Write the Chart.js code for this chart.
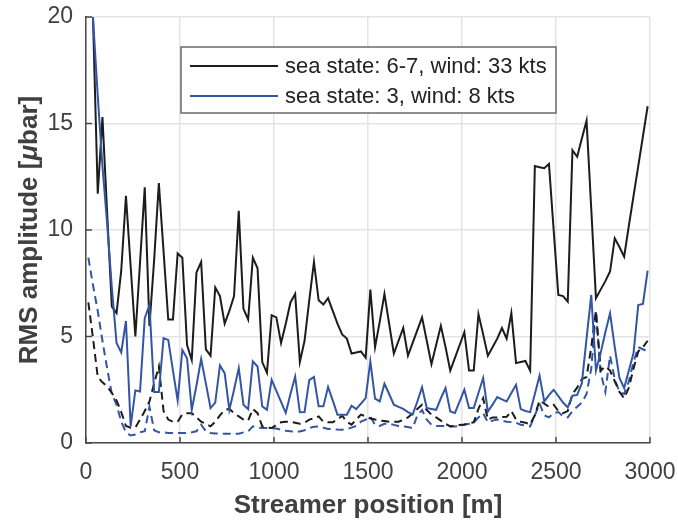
<!DOCTYPE html>
<html lang="en">
<head>
    <meta charset="UTF-8">
    <title>RMS amplitude along streamer</title>
    <style>
        body {
            margin: 0;
            background: #ffffff;
        }
        canvas {
            display: block;
        }
    </style>
    <script src="https://cdn.jsdelivr.net/npm/chart.js"></script>
</head>
<body>

<canvas id="rmsChart" width="678" height="521"></canvas>

<script>
    // Channel positions along the streamer (m)
    const positions = [
        12.5, 37.5, 62.5, 87.5, 112.5, 137.5, 162.5, 187.5, 212.5, 237.5,
        262.5, 287.5, 312.5, 337.5, 362.5, 387.5, 412.5, 437.5, 462.5, 487.5,
        512.5, 537.5, 562.5, 587.5, 612.5, 637.5, 662.5, 687.5, 712.5, 737.5,
        762.5, 787.5, 812.5, 837.5, 862.5, 887.5, 912.5, 937.5, 962.5, 987.5,
        1012.5, 1037.5, 1062.5, 1087.5, 1112.5, 1137.5, 1162.5, 1187.5, 1212.5, 1237.5,
        1262.5, 1287.5, 1312.5, 1337.5, 1362.5, 1387.5, 1412.5, 1437.5, 1462.5, 1487.5,
        1512.5, 1537.5, 1562.5, 1587.5, 1612.5, 1637.5, 1662.5, 1687.5, 1712.5, 1737.5,
        1762.5, 1787.5, 1812.5, 1837.5, 1862.5, 1887.5, 1912.5, 1937.5, 1962.5, 1987.5,
        2012.5, 2037.5, 2062.5, 2087.5, 2112.5, 2137.5, 2162.5, 2187.5, 2212.5, 2237.5,
        2262.5, 2287.5, 2312.5, 2337.5, 2362.5, 2387.5, 2412.5, 2437.5, 2462.5, 2487.5,
        2512.5, 2537.5, 2562.5, 2587.5, 2612.5, 2637.5, 2662.5, 2687.5, 2712.5, 2737.5,
        2762.5, 2787.5, 2812.5, 2837.5, 2862.5, 2887.5, 2912.5, 2937.5, 2962.5, 2987.5
    ];

    // sea state 6-7, wind 33 kts (solid black)
    const roughSolid = [
        24, 19.9, 11.7, 15.3, 10.8, 6.4, 6.1, 8.1, 11.6, 8.3,
        5.0, 8.5, 12.0, 5.5, 8.6, 12.2, 9.0, 5.8, 5.8, 8.9,
        8.7, 4.6, 3.9, 8.0, 8.5, 4.4, 4.1, 7.3, 6.9, 5.6,
        6.2, 6.9, 10.9, 6.3, 5.8, 8.7, 8.2, 3.8, 3.3, 6.0,
        5.9, 4.7, 5.6, 6.6, 7.0, 3.8, 4.8, 6.7, 8.5, 6.7,
        6.5, 6.8, 6.2, 5.6, 5.1, 4.9, 4.2, 4.25, 4.3, 4.0,
        7.2, 4.5, 5.7, 7.0, 5.6, 4.2, 4.8, 5.4, 4.1, 4.7,
        5.3, 5.9, 4.8, 3.7, 4.6, 5.5, 4.5, 3.4, 4.0, 4.6,
        5.2, 3.4, 3.4, 6.05, 5.1, 4.1, 4.5, 4.9, 5.4, 4.9,
        6.1, 3.75, 3.8, 3.85, 3.4, 13.0, 12.95, 12.9, 13.1, 10.0,
        6.95, 6.9, 6.64, 13.75, 13.44, 14.3, 15.13, 11.0, 6.8, 7.2,
        7.6, 8.05, 9.61, 9.2, 8.75, 10.2, 11.6, 13.0, 14.4, 15.81
    ];

    // sea state 3, wind 8 kts (solid blue)
    const calmSolid = [
        24, 19.9, 16.3, 13.0, 10.3, 7.3, 4.7, 4.25, 5.73, 0.78,
        2.47, 2.42, 5.86, 6.48, 2.39, 2.39, 4.92, 4.84, 3.4, 2.0,
        4.37, 3.98, 1.56, 2.7, 3.94, 2.8, 1.64, 1.9, 3.64, 3.28,
        1.56, 2.5, 3.52, 1.8, 1.59, 3.83, 3.59, 1.72, 1.56, 2.97,
        2.45, 1.93, 1.41, 2.3, 3.12, 1.44, 1.45, 2.95, 3.1, 1.72,
        1.72, 2.63, 2.0, 1.33, 1.33, 1.33, 1.75, 1.59, 1.85, 2.11,
        3.83, 2.08, 1.95, 2.78, 2.3, 1.8, 1.7, 1.6, 1.45, 1.33,
        1.95, 2.62, 1.64, 1.6, 1.56, 2.1, 2.58, 1.48, 1.41, 1.95,
        2.5, 1.64, 1.64, 2.35, 3.05, 1.48, 1.8, 2.16, 2.05, 1.95,
        2.35, 2.73, 1.59, 1.5, 1.45, 2.3, 3.16, 1.95, 2.25, 2.5,
        2.2, 1.9, 1.67, 2.22, 2.26, 2.81, 4.9, 6.95, 3.4, 4.22,
        5.2, 6.09, 4.5, 3.05, 2.58, 3.4, 4.22, 6.48, 6.53, 8.09
    ];

    // sea state 6-7 (dashed black)
    const roughDashed = [
        6.6, 4.9, 3.1, 2.85, 2.65, 2.35, 2.0, 1.45, 0.8, 0.72,
        0.72, 1.1, 1.5, 1.95, 2.8, 3.6, 1.5, 1.1, 1.0, 1.0,
        1.35, 1.4, 1.4, 1.2, 1.0, 0.9, 0.78, 1.0, 1.3, 1.55,
        1.6, 1.4, 1.25, 1.1, 1.05, 1.6, 1.4, 0.78, 0.72, 0.7,
        0.85, 0.97, 1.0, 1.0, 0.95, 0.9, 0.95, 1.1, 1.15, 1.25,
        1.0, 0.97, 0.97, 1.1, 1.28, 1.0, 0.86, 1.1, 1.33, 1.25,
        1.15, 1.1, 1.06, 1.03, 1.0, 1.0, 1.0, 1.09, 1.2, 1.4,
        1.6, 1.8, 1.55, 1.33, 1.2, 1.05, 0.9, 0.78, 0.8, 0.84,
        0.87, 0.92, 0.97, 1.6, 2.1, 1.1, 1.2, 1.2, 1.22, 1.23,
        1.5, 1.1, 1.0, 0.95, 0.88, 1.3, 2.0, 1.85, 1.7, 1.8,
        1.5, 1.4, 1.5, 2.3, 2.6, 3.0, 3.1, 4.5, 6.2, 3.4,
        3.6, 3.4, 2.9, 2.4, 2.1, 2.6, 3.5, 4.3, 4.5, 4.8
    ];

    // sea state 3 (dashed blue)
    const calmDashed = [
        8.7, 7.4, 6.2, 4.8, 3.5, 2.3, 1.8, 1.0, 0.5, 0.35,
        0.4, 0.5, 0.55, 1.7, 0.6, 0.5, 0.5, 0.47, 0.47, 0.47,
        0.47, 0.47, 0.5, 0.55, 0.86, 0.55, 0.47, 0.45, 0.44, 0.44,
        0.44, 0.44, 0.44, 0.5, 0.55, 0.78, 0.72, 0.7, 0.7, 0.7,
        0.68, 0.62, 0.58, 0.55, 0.54, 0.54, 0.6, 0.7, 0.76, 0.78,
        0.72, 0.66, 0.65, 0.63, 0.62, 0.66, 0.72, 0.8, 1.0, 1.1,
        1.25, 0.85, 0.8, 0.9, 0.92, 0.85, 0.8, 0.78, 0.75, 0.7,
        1.3, 1.55, 1.1, 0.86, 0.8, 0.8, 0.8, 0.79, 0.78, 0.8,
        0.86, 0.9, 0.95, 1.2, 1.4, 0.97, 1.05, 1.1, 1.05, 1.0,
        0.98, 0.95, 0.86, 0.82, 0.78, 1.3, 1.85, 1.3, 1.2, 1.4,
        1.45, 1.25, 1.2, 1.5, 1.7, 1.9, 2.3, 3.5, 6.2, 3.3,
        2.4, 4.1, 3.0, 2.4, 2.3, 2.9, 3.8, 4.5, 4.4, 4.3
    ];

    const xTicks = [0, 500, 1000, 1500, 2000, 2500, 3000];
    const yTicks = [0, 5, 10, 15, 20];
    const legendLabels = ['sea state: 6-7, wind: 33 kts', 'sea state: 3, wind: 8 kts'];
    // y title pieces: the mu is set in italics like the original
    const yTitleParts = ['RMS amplitude [', 'μ', 'bar]'];

    const BLACK = '#1c1c1c';
    const BLUE = '#3455a6';
    const AXIS_GREY = '#404040';
    const FONT = '"Liberation Sans", Arial, sans-serif';

    function toPoints(values) {
        return positions.map((x, i) => ({ x: x, y: values[i] }));
    }

    // inward tick marks, y title with italic mu, boxed legend
    const decorations = {
        id: 'decorations',
        afterDraw(chart) {
            const { ctx, chartArea: area, scales } = chart;
            ctx.save();

            ctx.strokeStyle = '#4a4a4a';
            ctx.lineWidth = 1.5;
            ctx.beginPath();
            xTicks.forEach(v => {
                const px = scales.x.getPixelForValue(v);
                ctx.moveTo(px, area.bottom);
                ctx.lineTo(px, area.bottom - 6);
            });
            yTicks.forEach(v => {
                const py = scales.y.getPixelForValue(v);
                ctx.moveTo(area.left, py);
                ctx.lineTo(area.left + 6, py);
            });
            ctx.stroke();

            // y axis title
            const fonts = ['bold 26px ' + FONT, 'italic bold 26px ' + FONT, 'bold 26px ' + FONT];
            let total = 0;
            const widths = yTitleParts.map((t, i) => {
                ctx.font = fonts[i];
                const w = ctx.measureText(t).width;
                total += w;
                return w;
            });
            ctx.save();
            ctx.translate(30, (area.top + area.bottom) / 2);
            ctx.rotate(-Math.PI / 2);
            ctx.fillStyle = AXIS_GREY;
            ctx.textBaseline = 'middle';
            ctx.textAlign = 'left';
            let cursor = -total / 2;
            yTitleParts.forEach((t, i) => {
                ctx.font = fonts[i];
                ctx.fillText(t, cursor, 0);
                cursor += widths[i];
            });
            ctx.restore();

            // legend box
            const boxX = area.left + 95, boxY = area.top + 30;
            const boxW = 375, boxH = 66;
            ctx.fillStyle = '#ffffff';
            ctx.fillRect(boxX, boxY, boxW, boxH);
            ctx.strokeStyle = '#6a6a6a';
            ctx.lineWidth = 1.5;
            ctx.strokeRect(boxX, boxY, boxW, boxH);

            ctx.font = '22px ' + FONT;
            ctx.textBaseline = 'middle';
            ctx.textAlign = 'left';
            const legendColors = [BLACK, BLUE];
            legendLabels.forEach((label, i) => {
                const rowY = boxY + 19 + i * 30;
                ctx.strokeStyle = legendColors[i];
                ctx.lineWidth = 2;
                ctx.beginPath();
                ctx.moveTo(boxX + 9, rowY);
                ctx.lineTo(boxX + 97, rowY);
                ctx.stroke();
                ctx.fillStyle = '#222222';
                ctx.fillText(label, boxX + 104, rowY + 1);
            });

            ctx.restore();
        }
    };

    Chart.defaults.font.family = FONT;

    const ctx = document.getElementById('rmsChart').getContext('2d');
    const rmsChart = new Chart(ctx, {
        type: 'line',
        data: {
            datasets: [
                {
                    label: legendLabels[1],
                    data: toPoints(calmSolid),
                    borderColor: BLUE,
                    borderWidth: 2
                },
                {
                    label: legendLabels[0],
                    data: toPoints(roughSolid),
                    borderColor: BLACK,
                    borderWidth: 2
                },
                {
                    label: 'rough dashed',
                    data: toPoints(roughDashed),
                    borderColor: BLACK,
                    borderWidth: 2,
                    borderDash: [8, 5]
                },
                {
                    label: 'calm dashed',
                    data: toPoints(calmDashed),
                    borderColor: BLUE,
                    borderWidth: 2,
                    borderDash: [8, 5]
                }
            ]
        },
        options: {
            responsive: false,
            animation: false,
            devicePixelRatio: 1,
            clip: 0,
            elements: {
                point: { radius: 0 },
                line: { tension: 0, fill: false }
            },
            layout: {
                padding: { top: 17, right: 28, left: 0, bottom: 0 }
            },
            plugins: {
                legend: { display: false },
                tooltip: { enabled: false }
            },
            scales: {
                x: {
                    type: 'linear',
                    min: 0,
                    max: 3000,
                    afterBuildTicks: s => { s.ticks = xTicks.map(v => ({ value: v })); },
                    afterFit: s => { s.height = 78; },
                    border: { display: true, color: '#4a4a4a', width: 1.5 },
                    // invisible tick marks only push the labels away from the axis
                    grid: { color: '#e4e4e4', lineWidth: 1.5, drawTicks: true, tickLength: 16, tickColor: 'rgba(0,0,0,0)' },
                    ticks: {
                        padding: 0,
                        color: AXIS_GREY,
                        font: { size: 23 },
                        maxRotation: 0,
                        callback: v => String(v)
                    },
                    title: {
                        display: true,
                        text: 'Streamer position [m]',
                        color: AXIS_GREY,
                        font: { size: 26, weight: 'bold' },
                        padding: { top: 0, bottom: 0 }
                    }
                },
                y: {
                    min: 0,
                    max: 20,
                    afterBuildTicks: s => { s.ticks = yTicks.map(v => ({ value: v })); },
                    afterFit: s => { s.width = 86; },
                    border: { display: true, color: '#4a4a4a', width: 1.5 },
                    grid: { color: '#e4e4e4', lineWidth: 1.5, drawTicks: true, tickLength: 13, tickColor: 'rgba(0,0,0,0)' },
                    ticks: {
                        padding: 0,
                        color: AXIS_GREY,
                        font: { size: 23 },
                        callback: v => String(v)
                    }
                }
            }
        },
        plugins: [decorations]
    });
</script>

</body>
</html>
